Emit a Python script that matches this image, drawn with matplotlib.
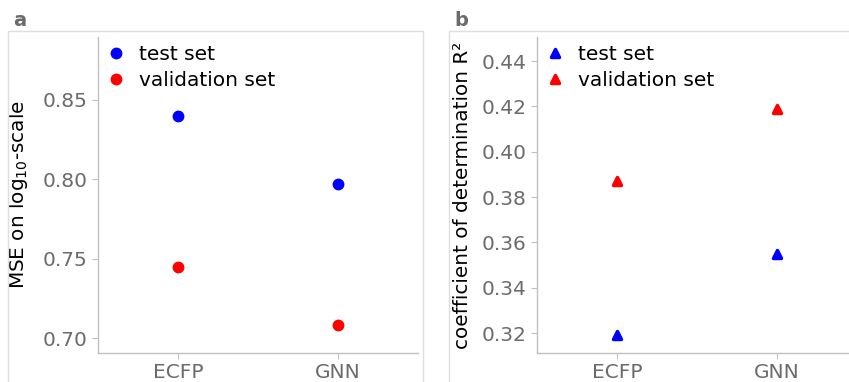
import matplotlib
matplotlib.use("Agg")
import matplotlib.pyplot as plt
from matplotlib.markers import MarkerStyle
from matplotlib.patches import Rectangle

categories = ["ECFP", "GNN"]
mse_test = [0.840, 0.797]
mse_val = [0.745, 0.708]
r2_test = [0.319, 0.355]
r2_val = [0.387, 0.419]
mse_ticks = [0.70, 0.75, 0.80, 0.85]
r2_ticks = [0.32, 0.34, 0.36, 0.38, 0.40, 0.42, 0.44]

W, H = 849, 382
fig = plt.figure(figsize=(W / 100, H / 100), dpi=100)
plt.rcParams['font.family'] = ['DejaVu Sans']

TICK_C = '#6b6b6b'
SPINE_C = '#c0c0c0'
FS = 14.5
LFS = 14.5
YFS = 14.4

def style(ax):
    for s in ['top', 'right']:
        ax.spines[s].set_visible(False)
    for s in ['left', 'bottom']:
        ax.spines[s].set_color(SPINE_C)
        ax.spines[s].set_linewidth(1.0)
    ax.tick_params(colors=SPINE_C, labelcolor=TICK_C, labelsize=FS, length=4, width=0.8)
    ax.set_xlim(-0.5, 1.5)
    ax.set_xticks(range(len(categories)))
    ax.set_xticklabels(categories)

ax1 = fig.add_axes([98 / W, 29 / H, 320 / W, 316 / H])
ax2 = fig.add_axes([537 / W, 29 / H, 320 / W, 316 / H])

x = list(range(len(categories)))
ax1.plot(x, mse_test, 'o', color='blue', markersize=7.5, label='test set', linestyle='none')
ax1.plot(x, mse_val, 'o', color='red', markersize=7.5, label='validation set', linestyle='none')
style(ax1)
ax1.set_ylim(0.6906, 0.8896)
ax1.set_yticks(mse_ticks)
ax1.set_yticklabels([f"{t:.2f}" for t in mse_ticks])
ax1.set_ylabel('MSE on log$_{10}$-scale', fontsize=YFS, color='black')
ax1.yaxis.set_label_coords(-0.2125, 0.5)
ax1.legend(loc='upper left', frameon=False, fontsize=LFS, handletextpad=0.35,
           borderaxespad=0.0, bbox_to_anchor=(-0.015, 1.0), labelspacing=0.35,
           handlelength=1.5)

tri = MarkerStyle('^', joinstyle='round')
ax2.plot(x, r2_test, marker=tri, color='blue', markersize=5.5, markeredgewidth=2.5,
         label='test set', linestyle='none')
ax2.plot(x, r2_val, marker=tri, color='red', markersize=5.5, markeredgewidth=2.5,
         label='validation set', linestyle='none')
style(ax2)
ax2.set_ylim(0.3112, 0.4506)
ax2.set_yticks(r2_ticks)
ax2.set_yticklabels([f"{t:.2f}" for t in r2_ticks])
ax2.set_ylabel('coefficient of determination R²', fontsize=YFS, color='black')
ax2.yaxis.set_label_coords(-0.203, 0.5)
ax2.legend(loc='upper left', frameon=False, fontsize=LFS, handletextpad=0.35,
           borderaxespad=0.0, bbox_to_anchor=(-0.015, 1.0), labelspacing=0.35,
           handlelength=1.5)

# panel frames
fig.patches.append(Rectangle((8 / W, -0.1), (423 - 8) / W, (382 - 31) / H + 0.1,
                             transform=fig.transFigure, fill=False,
                             edgecolor='#dedede', linewidth=1.0))
fig.patches.append(Rectangle((449 / W, -0.1), 0.6, (382 - 31) / H + 0.1,
                             transform=fig.transFigure, fill=False,
                             edgecolor='#dedede', linewidth=1.0))

fig.text(13 / W, 1 - 20 / H, 'a', fontsize=14, fontweight='bold', color='#6b6b6b',
         ha='left', va='center')
fig.text(454 / W, 1 - 20 / H, 'b', fontsize=14, fontweight='bold', color='#6b6b6b',
         ha='left', va='center')

fig.savefig('out.png', dpi=100)
